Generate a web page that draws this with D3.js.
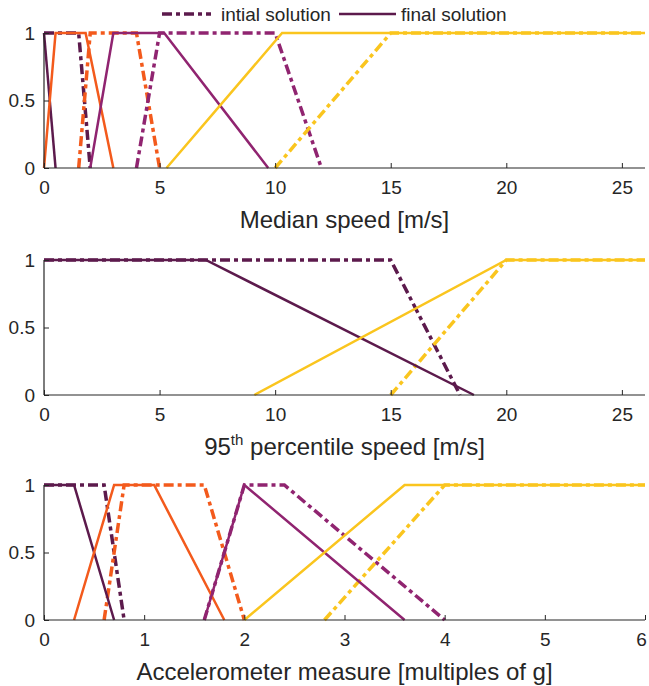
<!DOCTYPE html>
<html>
<head>
<meta charset="utf-8">
<script src="https://cdn.jsdelivr.net/npm/d3@7"></script>
<style>
  body { margin: 0; background: #fff; }
  svg { font-family: "Liberation Sans", Arial, sans-serif; }
</style>
</head>
<body>
<svg width="649" height="686"></svg>
<script>
// membership functions, one array of [x, y] points per class
const medianInitial = [
  [[0, 1], [1.5, 1], [2, 0]],
  [[1.5, 0], [2, 1], [4, 1], [5, 0]],
  [[4, 0], [5, 1], [10, 1], [12, 0]],
  [[10, 0], [15, 1], [26, 1]]
]
const medianFinal = [
  [[0, 1], [0.5, 0]],
  [[0, 0], [0.5, 1], [1.8, 1], [3, 0]],
  [[2, 0], [3, 1], [5.2, 1], [9.7, 0]],
  [[5.3, 0], [10.3, 1], [26, 1]]
]
const p95Initial = [
  [[0, 1], [15, 1], [18, 0]],
  [[15, 0], [20, 1], [26, 1]]
]
const p95Final = [
  [[0, 1], [7, 1], [18.6, 0]],
  [[9.1, 0], [20, 1], [26, 1]]
]
const accInitial = [
  [[0, 1], [0.6, 1], [0.8, 0]],
  [[0.6, 0], [0.8, 1], [1.6, 1], [2, 0]],
  [[1.6, 0], [2, 1], [2.4, 1], [4, 0]],
  [[2.8, 0], [4, 1], [6, 1]]
]
const accFinal = [
  [[0, 1], [0.3, 1], [0.7, 0]],
  [[0.3, 0], [0.7, 1], [1.1, 1], [1.8, 0]],
  [[1.6, 0], [2, 1], [3.6, 0]],
  [[2, 0], [3.6, 1], [6, 1]]
]
const speedTicks = [0, 5, 10, 15, 20, 25]
const accTicks = [0, 1, 2, 3, 4, 5, 6]
const yTicks = [0, 0.5, 1]
const legendLabels = ['intial solution', 'final solution']

const classColors = ['#5c1a4c', '#f35a1c', '#902470', '#fac51e']
const axisColor = '#262626'

let svg = d3.select('svg')
let left = 44, right = 645

let panels = [
  { top: 33, initial: medianInitial, final: medianFinal, colors: [0, 1, 2, 3],
    domain: [0, 26], ticks: speedTicks, label: 'Median speed [m/s]' },
  { top: 260, initial: p95Initial, final: p95Final, colors: [0, 3],
    domain: [0, 26], ticks: speedTicks, label: null },
  { top: 485, initial: accInitial, final: accFinal, colors: [0, 1, 2, 3],
    domain: [0, 6], ticks: accTicks, label: 'Accelerometer measure [multiples of g]' }
]

panels.forEach(p => {
  let x = d3.scaleLinear().domain(p.domain).range([left, right])
  let y = d3.scaleLinear().domain([0, 1]).range([p.top + 135, p.top])
  let g = svg.append('g')

  let line = d3.line().x(d => x(d[0])).y(d => y(d[1]))

  p.initial.forEach((pts, i) => {
    g.append('path')
      .attr('d', line(pts))
      .attr('fill', 'none')
      .attr('stroke', classColors[p.colors[i]])
      .attr('stroke-width', 3.5)
      .attr('stroke-dasharray', '10,4,4,4')
  })
  p.final.forEach((pts, i) => {
    g.append('path')
      .attr('d', line(pts))
      .attr('fill', 'none')
      .attr('stroke', classColors[p.colors[i]])
      .attr('stroke-width', 2.5)
  })

  let xAxis = g.append('g')
    .attr('transform', `translate(0, ${y(0)})`)
    .call(d3.axisBottom(x).tickValues(p.ticks).tickSize(-5).tickPadding(10).tickFormat(d3.format('')))
  let yAxis = g.append('g')
    .attr('transform', `translate(${left}, 0)`)
    .call(d3.axisLeft(y).tickValues(yTicks).tickSize(-5).tickPadding(9).tickFormat(d3.format('')))

  ;[xAxis, yAxis].forEach(a => {
    a.select('.domain').attr('stroke', axisColor).attr('stroke-width', 1.2)
    a.selectAll('.tick line').attr('stroke', axisColor)
    a.selectAll('text').attr('fill', axisColor).style('font-size', '19px')
      .style('font-family', '"Liberation Sans", Arial, sans-serif')
  })
  xAxis.selectAll('text').attr('dy', '0.85em')
  // last label sits at the window edge, pull it inside
  xAxis.selectAll('.tick').filter(d => x(d) > 640).select('text').attr('x', -4)
  xAxis.select('.domain').attr('d', `M${left},0H${right}`)
  yAxis.select('.domain').attr('d', `M0,${y(0)}V${y(1)}`)

  let label = g.append('text')
    .attr('x', (left + right) / 2)
    .attr('y', y(0) + 60)
    .attr('text-anchor', 'middle')
    .attr('fill', axisColor)
    .style('font-size', '24px')
  if (p.label) {
    label.text(p.label)
  } else {
    label.append('tspan').text('95')
    label.append('tspan').text('th').style('font-size', '15px').attr('dy', -10)
    label.append('tspan').text(' percentile speed [m/s]').attr('dy', 10)
  }
})

// legend
let legend = svg.append('g')
legend.append('line')
  .attr('x1', 162).attr('x2', 211).attr('y1', 14).attr('y2', 14)
  .attr('stroke', classColors[0]).attr('stroke-width', 3.5)
  .attr('stroke-dasharray', '10,4,4,4')
legend.append('text').attr('x', 221).attr('y', 21).text(legendLabels[0])
  .attr('fill', axisColor).style('font-size', '19px')
legend.append('line')
  .attr('x1', 339).attr('x2', 396).attr('y1', 14).attr('y2', 14)
  .attr('stroke', classColors[0]).attr('stroke-width', 2.5)
legend.append('text').attr('x', 401).attr('y', 21).text(legendLabels[1])
  .attr('fill', axisColor).style('font-size', '19px')
</script>
</body>
</html>
